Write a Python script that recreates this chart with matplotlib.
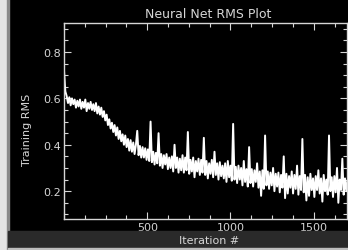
import matplotlib
matplotlib.use("Agg")
import matplotlib.pyplot as plt
import numpy as np
from matplotlib.patches import Rectangle
from matplotlib.ticker import MultipleLocator, FixedLocator


# ── data (one value every 8 iterations) ──────────────────────────────────────
step = 8
rms = [
    0.72, 0.63, 0.61, 0.58, 0.605, 0.57, 0.60, 0.575, 0.595, 0.56,
    0.59, 0.565, 0.595, 0.555, 0.585, 0.56, 0.595, 0.545, 0.58, 0.555,
    0.585, 0.55, 0.575, 0.545, 0.58, 0.535, 0.565, 0.53, 0.56, 0.52,
    0.545, 0.505, 0.53, 0.485, 0.51, 0.47, 0.495, 0.455, 0.485, 0.44,
    0.475, 0.425, 0.46, 0.415, 0.445, 0.40, 0.44, 0.39, 0.425, 0.375,
    0.42, 0.37, 0.41, 0.36, 0.40, 0.46, 0.355, 0.395, 0.345, 0.39,
    0.345, 0.385, 0.335, 0.38, 0.33, 0.50, 0.325, 0.37, 0.315, 0.365,
    0.32, 0.45, 0.31, 0.36, 0.30, 0.355, 0.315, 0.36, 0.295, 0.345,
    0.30, 0.35, 0.285, 0.40, 0.30, 0.345, 0.28, 0.34, 0.29, 0.355,
    0.28, 0.345, 0.29, 0.455, 0.275, 0.335, 0.285, 0.345, 0.26, 0.33,
    0.285, 0.34, 0.27, 0.335, 0.28, 0.43, 0.27, 0.33, 0.255, 0.32,
    0.275, 0.335, 0.26, 0.37, 0.27, 0.32, 0.25, 0.325, 0.265, 0.31,
    0.255, 0.32, 0.24, 0.33, 0.26, 0.31, 0.245, 0.49, 0.25, 0.305,
    0.235, 0.31, 0.25, 0.30, 0.225, 0.33, 0.24, 0.295, 0.22, 0.39,
    0.235, 0.295, 0.22, 0.29, 0.24, 0.32, 0.215, 0.285, 0.18, 0.29,
    0.21, 0.44, 0.225, 0.285, 0.21, 0.28, 0.225, 0.30, 0.20, 0.275,
    0.22, 0.28, 0.195, 0.27, 0.215, 0.35, 0.17, 0.275, 0.19, 0.265,
    0.215, 0.285, 0.19, 0.27, 0.21, 0.31, 0.185, 0.265, 0.205, 0.425,
    0.195, 0.27, 0.16, 0.26, 0.18, 0.275, 0.205, 0.255, 0.175, 0.265,
    0.205, 0.29, 0.19, 0.255, 0.155, 0.27, 0.20, 0.25, 0.185, 0.44,
    0.20, 0.26, 0.175, 0.265, 0.195, 0.30, 0.15, 0.25, 0.205, 0.34,
    0.185, 0.255, 0.20, 0.245,
]
iters = np.arange(len(rms)) * step

x_major = [0, 500, 1000, 1500]
x_labels = ["", "500", "1000", "1500"]
y_major = [0.2, 0.4, 0.6, 0.8]

FG = "#d6d6d6"

# ── figure ───────────────────────────────────────────────────────────────────
W, H = 348, 251
fig = plt.figure(figsize=(W / 100, H / 100), dpi=100, facecolor="black")

# scanned-look frame: light strip left/bottom, dark grey band under the plot
fig.patches.append(Rectangle((0, 0), 8 / W, 1, transform=fig.transFigure,
                             color="#e4e4e4", zorder=0))
fig.patches.append(Rectangle((7 / W, 0), 1.5 / W, 1, transform=fig.transFigure,
                             color="#8a8a8a", zorder=0))
fig.patches.append(Rectangle((8 / W, 2 / H), 1, 17 / H, transform=fig.transFigure,
                             color="#2a2a2a", zorder=0))
fig.patches.append(Rectangle((8 / W, 0), 1, 2 / H, transform=fig.transFigure,
                             color="#bdbdbd", zorder=0))

ax = fig.add_axes([64 / W, (H - 220) / H, (347 - 64) / W, (220 - 24) / H])
ax.set_facecolor("black")

ax.plot(iters, rms, color="white", lw=1.4)

ax.set_xlim(0, 1700)
ax.set_ylim(0.08, 0.925)

ax.xaxis.set_major_locator(FixedLocator(x_major))
ax.set_xticklabels(x_labels)
ax.xaxis.set_minor_locator(MultipleLocator(125))
ax.yaxis.set_major_locator(FixedLocator(y_major))
ax.yaxis.set_minor_locator(MultipleLocator(0.05))

ax.tick_params(which="both", direction="in", top=True, right=True,
               colors=FG, labelcolor=FG, labelsize=8, width=0.8, pad=2)
ax.tick_params(which="major", length=5)
ax.tick_params(which="minor", length=3)
for s in ax.spines.values():
    s.set_color(FG)
    s.set_linewidth(1.0)

fig.text(208 / W, 1 - 14 / H, "Neural Net RMS Plot", color=FG, fontsize=9,
         ha="center", va="center")
fig.text(27 / W, 1 - 130 / H, "Training RMS", color=FG, fontsize=8,
         ha="center", va="center", rotation=90)
fig.text(209 / W, 1 - 241 / H, "Iteration #", color=FG, fontsize=8,
         ha="center", va="center")

fig.savefig("out.png", dpi=100, facecolor=fig.get_facecolor())
